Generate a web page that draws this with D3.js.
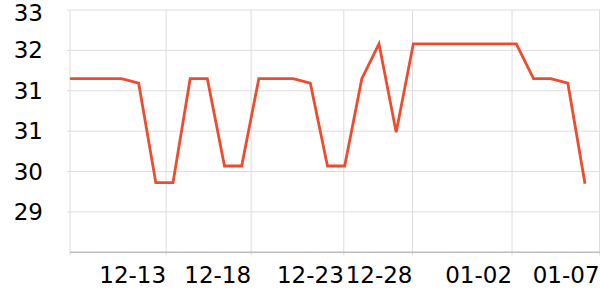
<!DOCTYPE html>
<html>
<head>
<meta charset="utf-8">
<script src="https://cdn.jsdelivr.net/npm/d3@7"></script>
<style>
  body { margin: 0; background: #fff; }
  text { font-family: "DejaVu Sans", sans-serif; }
</style>
</head>
<body>
<div id="chart"></div>
<script>
// ─── DATA ───────────────────────────────────────────────────────────────────────
// one value per sample, index 0..30
const values = [
  31.64, 31.64, 31.64, 31.64, 31.55, 29.58, 29.58, 31.64, 31.64, 29.91,
  29.91, 31.64, 31.64, 31.64, 31.55, 29.91, 29.91, 31.64, 32.33, 30.58,
  32.33, 32.33, 32.33, 32.33, 32.33, 32.33, 32.33, 31.64, 31.64, 31.55,
  29.56
];
// date ticks, placed on the sample index axis
const xTickAt = [5.6, 10.55, 15.95, 19.95, 25.75, 30.85];
const xTickLabels = ['12-13', '12-18', '12-23', '12-28', '01-02', '01-07'];
const yTicks = [29, 29.8, 30.6, 31.4, 32.2, 33];

// ─── SIZE ───────────────────────────────────────────────────────────────────────
const W = 600, H = 300;
const margin = {top: 10, right: 0, bottom: 47.7, left: 70};
const plotRight = W - margin.right;
const plotBottom = H - margin.bottom;

const svg = d3.select('#chart').append('svg')
  .attr('width', W)
  .attr('height', H);

// ─── SCALES ─────────────────────────────────────────────────────────────────────
const x = d3.scaleLinear()
  .domain([0, values.length - 1])
  .range([margin.left, 585]);

const y = d3.scaleLinear()
  .domain([28.2, 33])
  .range([plotBottom, margin.top]);

// ─── GRID ───────────────────────────────────────────────────────────────────────
svg.append('g')
  .selectAll('line')
  .data(yTicks)
  .join('line')
  .attr('x1', margin.left - 3)
  .attr('x2', plotRight)
  .attr('y1', d => y(d))
  .attr('y2', d => y(d))
  .attr('stroke', '#dcdcdc')
  .attr('stroke-width', 1);

svg.append('g')
  .selectAll('line')
  .data(xTickAt)
  .join('line')
  .attr('x1', d => x(d))
  .attr('x2', d => x(d))
  .attr('y1', margin.top)
  .attr('y2', plotBottom + 3)
  .attr('stroke', '#dcdcdc')
  .attr('stroke-width', 1);

// ─── AXES ───────────────────────────────────────────────────────────────────────
svg.append('line')
  .attr('x1', margin.left).attr('x2', margin.left)
  .attr('y1', margin.top).attr('y2', plotBottom + 3)
  .attr('stroke', '#dcdcdc');

svg.append('line')
  .attr('x1', margin.left).attr('x2', plotRight)
  .attr('y1', plotBottom).attr('y2', plotBottom)
  .attr('stroke', '#bdbdbd')
  .attr('stroke-width', 1.5);

// Y labels (top one nudged down so it stays inside the frame)
const fmt = d3.format('.0f');
svg.append('g')
  .selectAll('text')
  .data(yTicks)
  .join('text')
  .attr('x', 43)
  .attr('y', d => Math.max(y(d), 12.5))
  .attr('dy', '0.35em')
  .attr('text-anchor', 'end')
  .attr('font-size', 23)
  .attr('fill', '#000')
  .text(d => fmt(d));

// X labels (right aligned on their tick)
svg.append('g')
  .selectAll('text')
  .data(xTickAt)
  .join('text')
  .attr('x', d => x(d))
  .attr('y', 283)
  .attr('text-anchor', 'end')
  .attr('font-size', 23)
  .attr('fill', '#000')
  .text((d, i) => xTickLabels[i]);

// ─── LINE ───────────────────────────────────────────────────────────────────────
const line = d3.line()
  .x((d, i) => x(i))
  .y(d => y(d));

svg.append('path')
  .datum(values)
  .attr('d', line)
  .attr('fill', 'none')
  .attr('stroke', '#ef4b2f')
  .attr('stroke-width', 2.8)
  .attr('stroke-linejoin', 'miter');
</script>
</body>
</html>
